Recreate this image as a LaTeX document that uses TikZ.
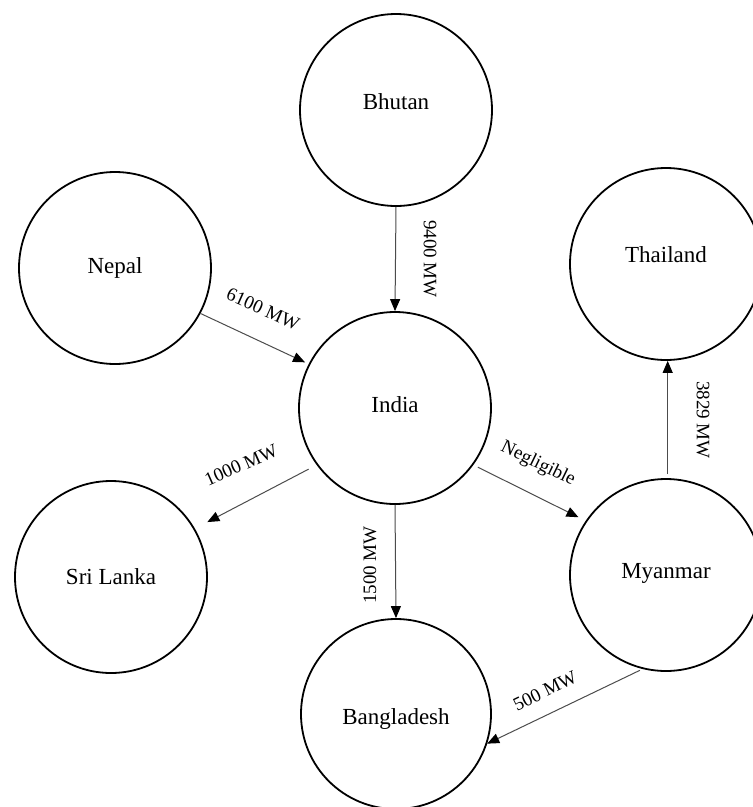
\documentclass[tikz,border=0pt]{standalone}
\usepackage{fontspec}
\setmainfont{Liberation Serif}
\usetikzlibrary{arrows.meta}
\newcommand\liftby[2]{\raisebox{#1}[\height][\depth]{#2}}
\tikzset{
  country/.style={circle, draw=black, line width=1.8pt, minimum size=192pt, inner sep=0pt, font=\fontsize{23}{25}\selectfont},
  arr/.style={draw=black!70, line width=1pt, -{Triangle[length=12pt,width=10pt,fill=black,color=black]}},
  flow/.style={font=\fontsize{19}{21}\selectfont, inner sep=1pt}
}
\begin{document}
\begin{tikzpicture}[x=1pt,y=-1pt]
\useasboundingbox[fill=white] (0,0) rectangle (753,807);
% countries
\node[country] (bhutan) at (396,110) {\liftby{8pt}{Bhutan}};
\node[country] (nepal) at (115,268) {Nepal};
\node[country] (thailand) at (666,264) {\liftby{9pt}{Thailand}};
\node[country] (india) at (395,408) {\liftby{3pt}{India}};
\node[country] (srilanka) at (111,577) {Sri Lanka};
\node[country] (myanmar) at (666,575) {\liftby{2pt}{Myanmar}};
\node[country, minimum size=190pt] (bangladesh) at (396,714) {\liftby{-5pt}{Bangladesh}};
% flows
\draw[arr] (bhutan.270) -- (india.90);
\draw[arr, shorten >=4pt] (nepal.332) -- (india.153);
\draw[arr, shorten <=9pt, shorten >=14pt] (india.216) -- (srilanka.30.5);
\draw[arr, shorten <=5pt, shorten >=8pt] (india.324) -- (myanmar.146);
\draw[arr] (india.270) -- (bangladesh.90);
\draw[arr, shorten <=4pt] (myanmar.89) -- (thailand.271);
\draw[arr, shorten <=3pt] (myanmar.256.7) -- (bangladesh.342.5);
% labels
\node[flow, rotate=-90] (l1) at (430,259) {9400 MW};
\node[flow, rotate=-24] (l2) at (263,309) {6100 MW};
\node[flow, rotate=24] (l3) at (241,465) {1000 MW};
\node[flow, rotate=-26] (l4) at (538,464) {Negligible};
\node[flow, rotate=90] (l5) at (370,565) {1500 MW};
\node[flow, rotate=-90] (l6) at (703,420) {3829 MW};
\node[flow, rotate=26] (l7) at (545,691) {500 MW};
\end{tikzpicture}
\end{document}
